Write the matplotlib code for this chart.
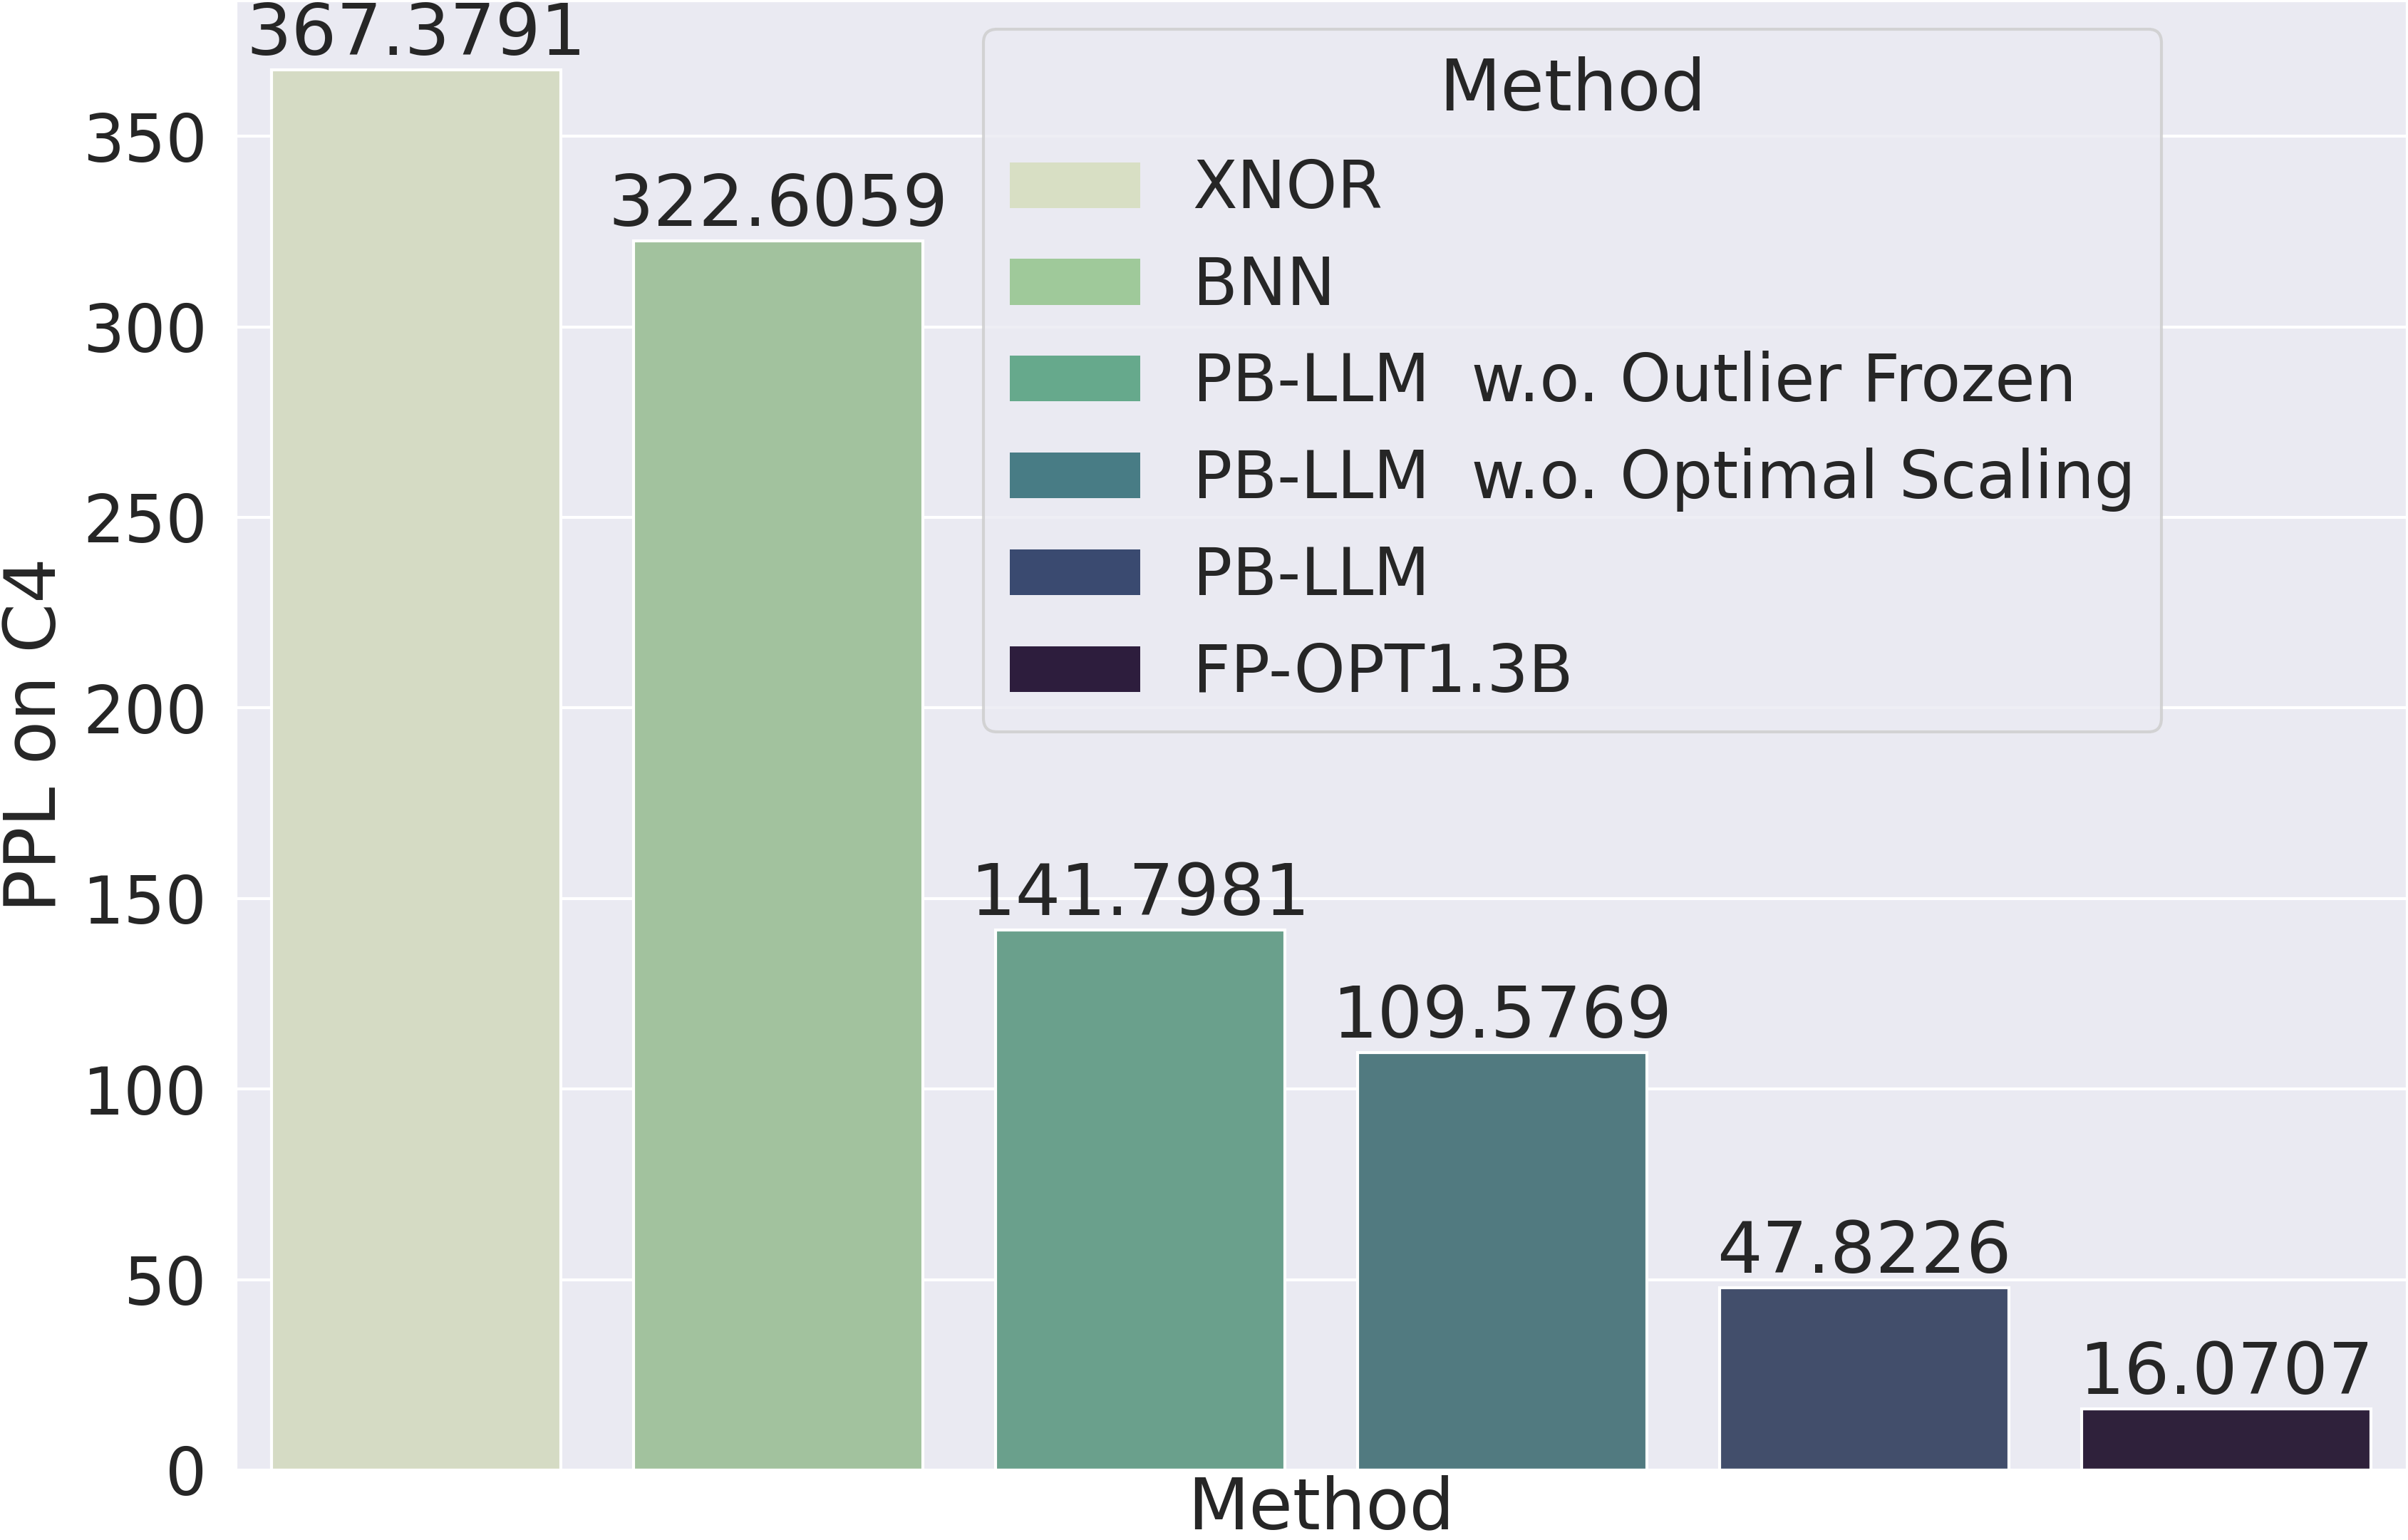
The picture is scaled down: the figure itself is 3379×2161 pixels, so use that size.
import matplotlib
matplotlib.use("Agg")
import matplotlib.pyplot as plt
import seaborn as sns
from matplotlib.patches import Patch

methods = ["XNOR", "BNN", "PB-LLM  w.o. Outlier Frozen",
           "PB-LLM  w.o. Optimal Scaling", "PB-LLM", "FP-OPT1.3B"]
ppl = [367.3791, 322.6059, 141.7981, 109.5769, 47.8226, 16.0707]
bar_colors = ["#d5dbc4", "#a2c29e", "#6aa08c", "#517a80", "#424e6b", "#2f213b"]
legend_colors = ["#d8dfc4", "#9fc99a", "#66a98c", "#487c85", "#3a4a70", "#2d1d3d"]

sns.set_theme(style="darkgrid", font_scale=2)
plt.rcParams['font.family'] = ['DejaVu Sans']

fig = plt.figure(figsize=(3379/300, 2161/300), dpi=300)
ax = fig.add_axes([0.0977, 0.0454, 0.9020, 0.9546])

x = list(range(len(methods)))
bars = ax.bar(x, ppl, width=0.8, color=bar_colors, edgecolor="white", linewidth=1.0)
ax.bar_label(bars, labels=[f"{v:.4f}" for v in ppl], fontsize=24, padding=0)
ax.set_xlim(-0.5, len(methods) - 0.5)
ax.set_ylim(0, max(ppl) * 1.05)
ax.set_xticks([])
ax.grid(axis="x", visible=False)
ax.set_xlabel("Method", fontsize=24, labelpad=1.5)
ax.set_ylabel("PPL on C4", fontsize=24)
ax.tick_params(axis="y", labelsize=22)

handles = [Patch(facecolor=c, edgecolor="none") for c in legend_colors]
leg = ax.legend(handles, methods, title="Method", fontsize=22, title_fontsize=24,
                loc="upper left", bbox_to_anchor=(0.3446, 0.980), borderaxespad=0,
                labelspacing=0.5)

fig.savefig("out.png", dpi=300)
